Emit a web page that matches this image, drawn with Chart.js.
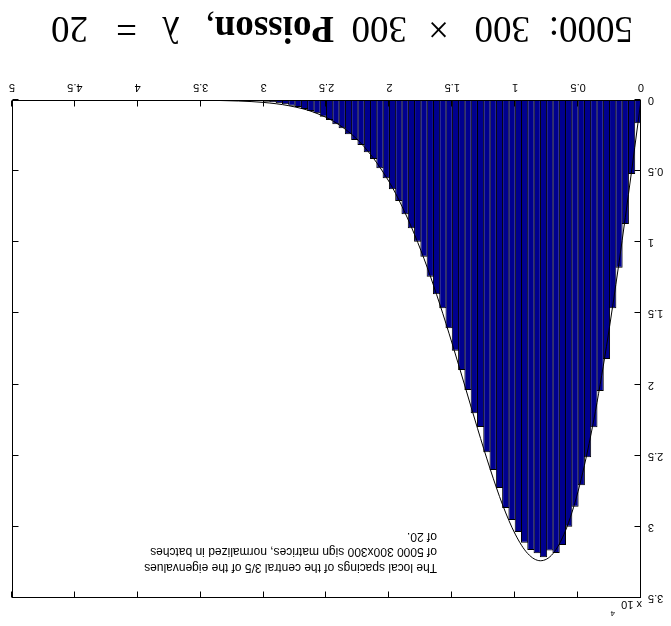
<!DOCTYPE html>
<html>
<head>
<meta charset="utf-8">
<script src="https://cdn.jsdelivr.net/npm/chart.js@4/dist/chart.umd.min.js"></script>
<style>
  html, body { margin: 0; padding: 0; background: #fff; overflow: hidden; }
  #grafico { display: block; transform: rotate(180deg); }
</style>
</head>
<body>
<canvas id="grafico" width="671" height="626"></canvas>
<script>
const centrosClasses = [
    0.025, 0.075, 0.125, 0.175, 0.225, 0.275, 0.325, 0.375, 0.425, 0.475,
    0.525, 0.575, 0.625, 0.675, 0.725, 0.775, 0.825, 0.875, 0.925, 0.975,
    1.025, 1.075, 1.125, 1.175, 1.225, 1.275, 1.325, 1.375, 1.425, 1.475,
    1.525, 1.575, 1.625, 1.675, 1.725, 1.775, 1.825, 1.875, 1.925, 1.975,
    2.025, 2.075, 2.125, 2.175, 2.225, 2.275, 2.325, 2.375, 2.425, 2.475,
    2.525, 2.575, 2.625, 2.675, 2.725, 2.775, 2.825, 2.875, 2.925, 2.975,
    3.025, 3.075, 3.125, 3.175, 3.225, 3.275, 3.325, 3.375, 3.425, 3.475
];
const contagens = [
    1640, 5200, 8720, 11790, 14640, 18200, 20450, 23000, 25100, 27080,
    28580, 30000, 31270, 31830, 31670, 32130, 31860, 31630, 31110, 30360,
    29520, 28670, 27270, 26000, 24760, 22980, 22020, 20380, 18980, 17620,
    16050, 14640, 13660, 12420, 11010, 9960, 9020, 8030, 7100, 6280,
    5500, 4800, 4150, 3680, 3160, 2810, 2410, 1990, 1710, 1410,
    1170, 940, 770, 630, 490, 400, 300, 230, 160, 120,
    80, 60, 40, 25, 15, 10, 6, 4, 2, 1
];

// curva teórica
const curvaX = [0, 0.1, 0.2, 0.3, 0.4, 0.5, 0.6, 0.7, 0.8, 0.9, 1.0, 1.1, 1.2, 1.3, 1.4, 1.5, 1.6, 1.7, 1.8, 1.9, 2.0, 2.2, 2.4, 2.6, 2.8, 3.0, 3.2, 3.5, 4.0, 4.5, 5.0];
const curvaY = [0, 6640, 12970, 18700, 23600, 27490, 30260, 31880, 32380, 31880, 30510, 28460, 25910, 23070, 20100, 17150, 14340, 11750, 9460, 7470, 5780, 3290, 1740, 860, 400, 170, 70, 15, 0, 0, 0];

const ticksX = [0, 0.5, 1, 1.5, 2, 2.5, 3, 3.5, 4, 4.5, 5];
const ticksY = [0, 5000, 10000, 15000, 20000, 25000, 30000, 35000];

const notaLinhas = [
    'The local spacings of the central 3/5 of the eigenvalues',
    'of 5000 300x300 sign matrices, normalized in batches',
    'of 20.'
];
// pedaços do rótulo: [texto, x, negrito]
const rotuloPartes = [
    ['5000:', 38, false], ['300', 141, false], ['\u00d7', 222, false], ['300', 264, false],
    ['Poisson', 337, true], [',', null, false], ['\u03bb', 491, false], ['=', 534, false], ['20', 583, false]
];

const serifa = '"Liberation Serif", "DejaVu Serif", serif';
const sans = '"Liberation Sans", Arial, sans-serif';

const molduraPlugin = {
    id: 'moldura',
    afterDraw(chart) {
        const { ctx, chartArea: a, scales: { x, y } } = chart;
        ctx.save();
        ctx.strokeStyle = '#000';
        ctx.lineWidth = 1;
        const L = Math.round(a.left) + 0.5, R = Math.round(a.right) - 0.5;
        const T = Math.round(a.top) + 0.5, B = Math.round(a.bottom) - 0.5;
        ctx.strokeRect(L, T, R - L, B - T);
        const tam = 6;
        ctx.beginPath();
        ticksX.forEach(v => {
            const px = Math.round(x.getPixelForValue(v)) + 0.5;
            ctx.moveTo(px, B); ctx.lineTo(px, B - tam);
            ctx.moveTo(px, T); ctx.lineTo(px, T + tam);
        });
        ticksY.forEach(v => {
            const py = Math.round(y.getPixelForValue(v)) + 0.5;
            ctx.moveTo(L, py); ctx.lineTo(L + tam, py);
            ctx.moveTo(R, py); ctx.lineTo(R - tam, py);
        });
        ctx.stroke();

        ctx.fillStyle = '#000';
        ctx.textBaseline = 'alphabetic';
        ctx.textAlign = 'left';
        // expoente
        ctx.font = '11px ' + sans;
        ctx.fillText('x 10', 29, 25);
        ctx.font = '8px ' + sans;
        ctx.fillText('4', 56, 15);

        // nota
        ctx.font = '12px ' + sans;
        notaLinhas.forEach((t, i) => ctx.fillText(t, 234, 62 + i * 15.5));

        // rótulo inferior
        let cursor = 0;
        rotuloPartes.forEach(([t, px, negrito]) => {
            ctx.font = (negrito ? 'bold ' : '') + '37px ' + serifa;
            const pos = px === null ? cursor : px;
            ctx.fillText(t, pos, 609);
            cursor = pos + ctx.measureText(t).width;
        });
        ctx.restore();
    }
};

new Chart(document.getElementById('grafico'), {
    type: 'bar',
    data: {
        datasets: [
            {
                type: 'line',
                data: curvaX.map((v, i) => ({ x: v, y: curvaY[i] })),
                borderColor: '#000', borderWidth: 1, pointRadius: 0,
                cubicInterpolationMode: 'monotone', fill: false, order: 0
            },
            {
                type: 'bar',
                data: centrosClasses.map((v, i) => ({ x: v, y: contagens[i] })),
                backgroundColor: 'rgb(0,0,143)', borderColor: '#000', borderWidth: 1,
                barPercentage: 1.16, categoryPercentage: 1, order: 1
            }
        ]
    },
    options: {
        responsive: false, animation: false, devicePixelRatio: 1,
        layout: { padding: { top: 28, right: 12, left: 0, bottom: 0 } },
        plugins: { legend: { display: false }, tooltip: { enabled: false } },
        scales: {
            x: {
                type: 'linear', min: 0, max: 5, offset: false,
                grid: { display: false, drawTicks: false, tickLength: 0 }, border: { display: false },
                afterBuildTicks: s => { s.ticks = ticksX.map(v => ({ value: v })); },
                afterFit: s => { s.height = 100; },
                ticks: { color: '#000', font: { family: sans, size: 11 }, padding: 6, maxRotation: 0, autoSkip: false,
                    callback: v => String(v) }
            },
            y: {
                min: 0, max: 35000,
                grid: { display: false, drawTicks: false, tickLength: 0 }, border: { display: false },
                afterBuildTicks: s => { s.ticks = ticksY.map(v => ({ value: v })); },
                afterFit: s => { s.width = 30; },
                ticks: { color: '#000', font: { family: sans, size: 11 }, padding: 7, autoSkip: false,
                    callback: v => String(v / 10000) }
            }
        }
    },
    plugins: [molduraPlugin]
});
</script>
</body>
</html>
